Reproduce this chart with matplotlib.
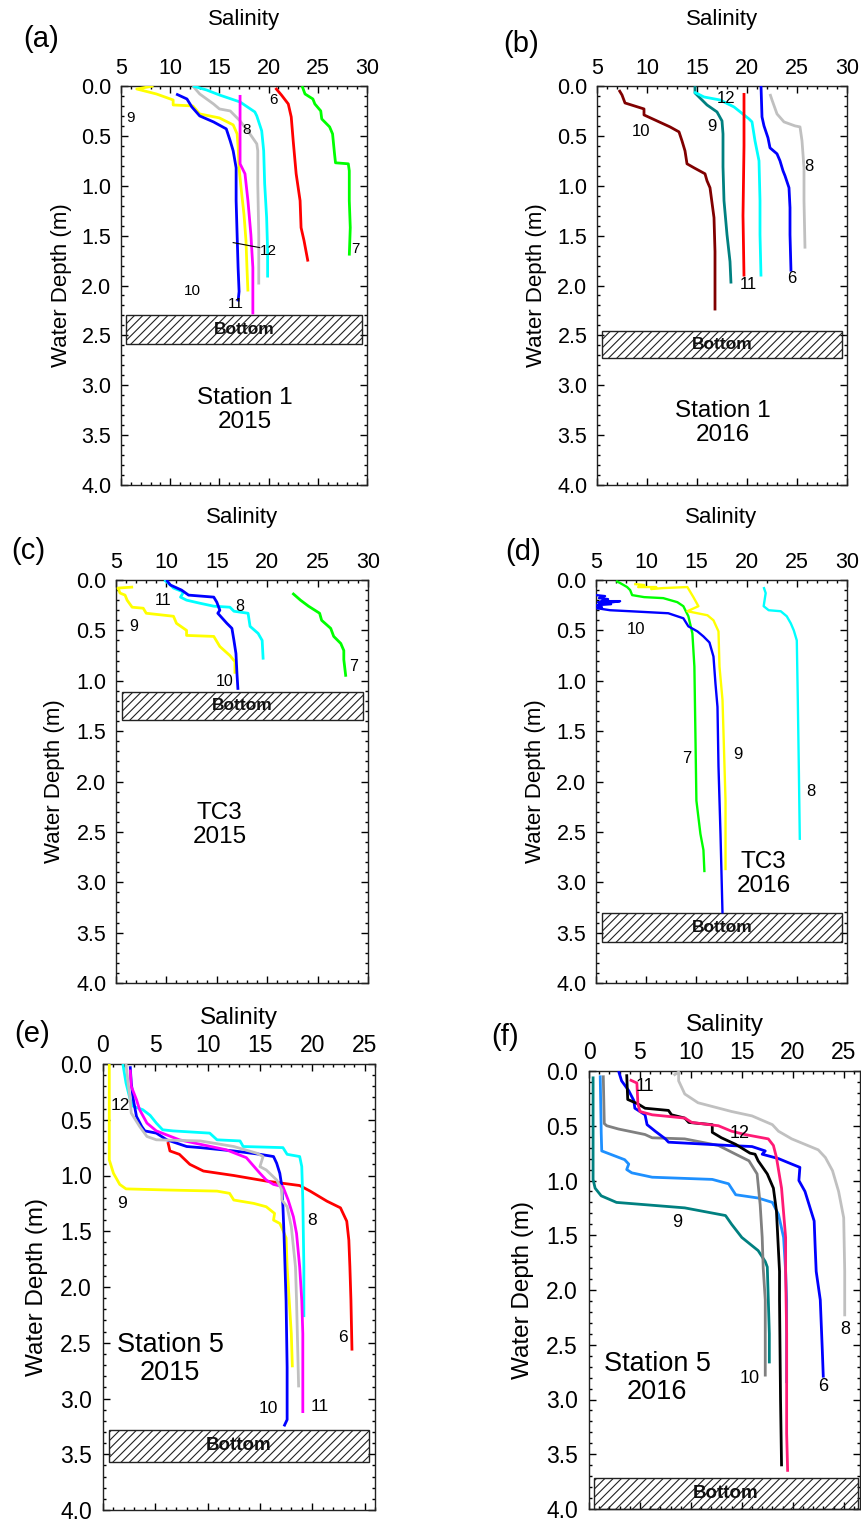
import matplotlib
matplotlib.use('Agg')
import matplotlib.pyplot as plt
from matplotlib.patches import Rectangle
from matplotlib.ticker import MultipleLocator, FormatStrFormatter

plt.rcParams['font.family'] = ['Liberation Sans', 'DejaVu Sans']
plt.rcParams['hatch.linewidth'] = 0.8

# ---------------- (a) Station 1, 2015 ----------------
a9_sal = [8.3, 6.6, 8.6, 10.3, 10.3, 12.3, 13.0, 15.0, 16.4, 16.8, 16.9, 17.0, 17.2, 17.5, 17.7, 17.8, 17.9]
a9_dep = [0.00, 0.03, 0.08, 0.14, 0.19, 0.20, 0.28, 0.32, 0.39, 0.48, 0.61, 0.82, 1.02, 1.29, 1.55, 1.82, 2.06]
a10_sal = [10.6, 11.7, 12.2, 13.0, 14.4, 15.7, 16.1, 16.4, 16.7, 16.7, 16.8, 16.9, 17.0, 16.9]
a10_dep = [0.08, 0.13, 0.21, 0.30, 0.36, 0.43, 0.55, 0.65, 0.82, 1.15, 1.49, 1.82, 2.06, 2.16]
a8_sal = [12.3, 13.0, 14.4, 15.0, 16.1, 17.1, 18.1, 18.8, 18.9, 18.9, 19.0, 19.0]
a8_dep = [0.00, 0.08, 0.18, 0.23, 0.25, 0.35, 0.48, 0.58, 0.65, 0.98, 1.49, 1.99]
a12_sal = [12.3, 13.7, 15.0, 17.1, 18.6, 18.8, 19.3, 19.5, 19.6, 19.8, 19.9, 19.9]
a12_dep = [0.00, 0.04, 0.09, 0.16, 0.26, 0.30, 0.45, 0.65, 0.98, 1.32, 1.65, 1.92]
a6_sal = [20.7, 21.3, 22.0, 22.3, 22.5, 22.8, 23.2, 23.3, 23.6, 24.0]
a6_dep = [0.02, 0.09, 0.18, 0.31, 0.55, 0.88, 1.15, 1.42, 1.55, 1.76]
a7_sal = [23.4, 23.7, 24.5, 24.7, 25.3, 25.4, 26.2, 26.5, 26.7, 26.8, 28.1, 28.2, 28.2, 28.3, 28.2]
a7_dep = [0.00, 0.08, 0.13, 0.18, 0.25, 0.33, 0.41, 0.48, 0.68, 0.77, 0.78, 0.85, 1.15, 1.42, 1.70]
a11_sal = [17.1, 17.1, 17.6, 17.9, 18.2, 18.4, 18.4]
a11_dep = [0.09, 0.78, 0.88, 1.15, 1.49, 1.82, 2.29]
a_labels = ['6', '9', '8', '12', '7', '10', '11']
a_lab_x = [20.5, 6.0, 17.8, 20.0, 28.8, 12.3, 16.7]
a_lab_y = [0.14, 0.32, 0.44, 1.65, 1.63, 2.06, 2.19]

# ---------------- (b) Station 1, 2016 ----------------
b10_sal = [7.2, 7.5, 7.8, 9.7, 9.7, 11.0, 12.3, 13.2, 13.5, 13.8, 14.0, 14.7, 15.8, 16.0, 16.3, 16.7, 16.8, 16.8, 16.8]
b10_dep = [0.04, 0.09, 0.17, 0.23, 0.29, 0.35, 0.41, 0.46, 0.55, 0.65, 0.78, 0.82, 0.88, 0.95, 1.02, 1.32, 1.66, 1.99, 2.25]
b9_sal = [14.8, 14.8, 16.0, 17.0, 17.5, 17.6, 17.6, 17.7, 18.0, 18.3, 18.4]
b9_dep = [0.00, 0.07, 0.19, 0.26, 0.35, 0.48, 0.81, 1.15, 1.49, 1.76, 1.98]
b12_sal = [14.7, 15.7, 17.3, 18.7, 20.2, 20.5, 20.8, 21.2, 21.3, 21.3, 21.4]
b12_dep = [0.06, 0.11, 0.14, 0.21, 0.33, 0.36, 0.55, 0.75, 1.15, 1.49, 1.91]
b11_sal = [19.7, 19.7, 19.6, 19.7]
b11_dep = [0.07, 0.60, 1.30, 1.91]
b6_sal = [21.4, 21.5, 21.7, 22.1, 22.3, 23.0, 23.3, 23.6, 23.8, 24.2, 24.3, 24.3, 24.4]
b6_dep = [0.00, 0.31, 0.40, 0.52, 0.62, 0.68, 0.75, 0.85, 0.90, 1.02, 1.22, 1.49, 1.86]
b8_sal = [22.3, 22.5, 23.0, 23.7, 24.8, 25.3, 25.5, 25.7, 25.7, 25.8]
b8_dep = [0.08, 0.14, 0.28, 0.36, 0.40, 0.41, 0.55, 0.82, 1.15, 1.63]
b_labels = ['12', '10', '9', '8', '11', '6']
b_lab_x = [17.9, 9.4, 16.5, 26.2, 20.1, 24.5]
b_lab_y = [0.13, 0.46, 0.41, 0.81, 1.99, 1.93]

# ---------------- (c) TC3, 2015 ----------------
c8_sal = [9.8, 10.4, 10.7, 11.7, 11.4, 12.0, 13.3, 14.7, 16.3, 16.7, 18.1, 18.3, 19.1, 19.5, 19.6]
c8_dep = [0.00, 0.05, 0.08, 0.12, 0.17, 0.20, 0.23, 0.26, 0.27, 0.31, 0.33, 0.46, 0.53, 0.60, 0.79]
c9_sal = [6.7, 5.2, 5.4, 5.9, 6.1, 6.6, 7.7, 8.0, 10.7, 11.0, 12.0, 12.0, 14.7, 15.3, 16.3, 16.8, 16.8]
c9_dep = [0.07, 0.08, 0.13, 0.15, 0.20, 0.27, 0.28, 0.33, 0.36, 0.43, 0.50, 0.55, 0.56, 0.66, 0.75, 0.81, 0.93]
c10_sal = [10.0, 10.4, 11.5, 12.2, 14.7, 15.0, 15.3, 15.1, 16.0, 16.5, 16.7, 16.9, 17.0, 17.1]
c10_dep = [0.00, 0.05, 0.10, 0.15, 0.17, 0.22, 0.30, 0.33, 0.43, 0.48, 0.60, 0.73, 0.93, 1.09]
c7_sal = [22.5, 23.3, 24.1, 25.2, 25.4, 26.3, 26.6, 27.3, 27.6, 27.6, 27.8]
c7_dep = [0.13, 0.20, 0.26, 0.33, 0.40, 0.48, 0.56, 0.63, 0.70, 0.79, 0.96]
c_labels = ['11', '8', '9', '7', '10']
c_lab_x = [9.7, 17.3, 6.8, 28.6, 15.8]
c_lab_y = [0.20, 0.26, 0.46, 0.86, 1.01]

# ---------------- (d) TC3, 2016 ----------------
d7_sal = [7.0, 7.4, 8.1, 8.4, 8.6, 9.8, 11.7, 13.1, 13.7, 14.2, 14.6, 14.8, 14.9, 15.0, 15.4, 15.7, 15.8]
d7_dep = [0.01, 0.03, 0.07, 0.10, 0.15, 0.17, 0.18, 0.22, 0.26, 0.36, 0.53, 0.86, 1.52, 2.19, 2.52, 2.68, 2.90]
d9_sal = [8.8, 9.8, 9.2, 11.0, 10.5, 11.7, 14.1, 14.7, 15.2, 14.1, 16.1, 16.7, 17.2, 17.3, 17.6, 17.7, 17.9, 17.9]
d9_dep = [0.04, 0.05, 0.07, 0.07, 0.09, 0.08, 0.07, 0.17, 0.26, 0.31, 0.35, 0.40, 0.51, 0.86, 1.19, 1.52, 2.19, 2.88]
d10_sal = [5.0, 5.9, 5.3, 6.2, 5.5, 7.4, 6.0, 5.2, 6.5, 5.0, 5.6, 5.1, 6.4, 8.4, 12.2, 13.7, 14.2, 15.1, 15.7,
           16.3, 16.7, 16.9, 17.1, 17.2, 17.4, 17.6]
d10_dep = [0.15, 0.16, 0.18, 0.19, 0.21, 0.21, 0.23, 0.22, 0.24, 0.25, 0.27, 0.28, 0.30, 0.31, 0.33, 0.38, 0.46,
           0.51, 0.56, 0.62, 0.76, 1.03, 1.26, 1.85, 2.52, 3.31]
d8_sal = [21.7, 21.9, 21.7, 22.2, 23.4, 24.0, 24.4, 24.7, 25.0, 25.1, 25.2, 25.3]
d8_dep = [0.07, 0.13, 0.26, 0.30, 0.31, 0.36, 0.43, 0.50, 0.60, 1.19, 1.85, 2.58]
d_labels = ['10', '7', '9', '8']
d_lab_x = [9.0, 14.0, 19.1, 26.4]
d_lab_y = [0.49, 1.77, 1.73, 2.10]

# ---------------- (e) Station 5, 2015 ----------------
e9_sal = [0.6, 0.6, 0.6, 1.0, 1.6, 2.2, 6.1, 10.9, 12.1, 12.5, 14.4, 15.6, 16.4, 16.3, 16.9, 17.1, 17.5, 17.6, 17.8, 18.0, 18.1]
e9_dep = [0.00, 0.32, 0.86, 0.98, 1.08, 1.12, 1.13, 1.14, 1.16, 1.22, 1.25, 1.28, 1.34, 1.40, 1.43, 1.47, 1.56, 1.82, 2.12, 2.42, 2.72]
e6_sal = [6.2, 6.4, 7.3, 8.3, 9.6, 12.5, 15.6, 18.8, 19.8, 21.4, 22.7, 23.3, 23.5, 23.6, 23.7, 23.8]
e6_dep = [0.70, 0.78, 0.81, 0.90, 0.96, 1.00, 1.05, 1.09, 1.14, 1.23, 1.29, 1.41, 1.58, 1.82, 2.12, 2.57]
e8_sal = [1.9, 2.2, 2.6, 2.9, 3.8, 4.5, 5.1, 5.7, 6.7, 10.2, 10.9, 13.1, 13.4, 17.2, 17.6, 18.8, 19.0, 19.1, 19.2, 19.2]
e8_dep = [0.00, 0.17, 0.32, 0.38, 0.41, 0.46, 0.53, 0.59, 0.60, 0.62, 0.68, 0.69, 0.74, 0.75, 0.81, 0.83, 0.92, 1.22, 1.82, 2.27]
e10_sal = [2.6, 2.7, 2.9, 3.2, 3.7, 4.0, 5.1, 6.1, 8.0, 9.3, 12.5, 15.0, 16.3, 16.6, 16.9, 17.1, 17.2, 17.3, 17.5, 17.6, 17.6, 17.3]
e10_dep = [0.02, 0.17, 0.32, 0.47, 0.56, 0.60, 0.62, 0.68, 0.74, 0.75, 0.78, 0.81, 0.83, 0.89, 0.98, 1.10, 1.28, 1.52, 2.12, 2.72, 3.19, 3.25]
e11_sal = [2.6, 2.7, 3.2, 3.5, 4.2, 5.1, 7.3, 9.3, 11.8, 13.7, 15.0, 15.6, 16.3, 17.2, 17.7, 18.2, 18.5, 18.8, 19.0, 19.1, 19.1]
e11_dep = [0.05, 0.20, 0.32, 0.41, 0.53, 0.60, 0.68, 0.72, 0.77, 0.84, 0.98, 1.04, 1.08, 1.10, 1.22, 1.37, 1.52, 1.82, 2.12, 2.42, 3.13]
e12_sal = [2.2, 2.4, 2.6, 2.7, 3.5, 4.2, 5.1, 9.3, 12.5, 14.7, 15.3, 15.0, 15.6, 16.6, 17.1, 17.1, 17.6, 18.0, 18.4, 18.5, 18.7]
e12_dep = [0.00, 0.17, 0.32, 0.44, 0.56, 0.65, 0.68, 0.69, 0.74, 0.80, 0.83, 0.92, 0.95, 1.04, 1.13, 1.22, 1.28, 1.46, 1.82, 2.12, 2.90]
e_labels = ['12', '9', '8', '6', '10', '11']
e_lab_x = [1.7, 1.8, 20.0, 22.9, 15.8, 20.7]
e_lab_y = [0.37, 1.25, 1.40, 2.45, 3.09, 3.07]

# ---------------- (f) Station 5, 2016 ----------------
f8_sal = [8.3, 8.8, 8.8, 9.4, 10.7, 14.0, 16.0, 18.0, 18.6, 19.9, 22.5, 23.2, 23.9, 24.5, 25.0, 25.1, 25.1, 25.1]
f8_dep = [0.04, 0.01, 0.09, 0.21, 0.29, 0.37, 0.41, 0.49, 0.55, 0.62, 0.72, 0.79, 0.91, 1.10, 1.34, 1.83, 2.09, 2.24]
f9_sal = [0.4, 0.4, 0.6, 1.2, 2.7, 9.4, 13.4, 14.0, 15.0, 16.6, 17.3, 17.5, 17.6, 17.7, 17.7]
f9_dep = [0.05, 0.99, 1.07, 1.14, 1.20, 1.25, 1.32, 1.40, 1.52, 1.64, 1.74, 1.79, 2.09, 2.40, 2.67]
f7_sal = [1.1, 1.2, 1.25, 3.5, 3.9, 3.7, 4.2, 6.2, 12.1, 13.7, 14.4, 16.6, 18.0, 18.6, 19.1, 19.3, 19.4, 19.4, 19.4]
f7_dep = [0.04, 0.57, 0.73, 0.81, 0.85, 0.90, 0.93, 0.97, 0.99, 1.03, 1.13, 1.16, 1.20, 1.31, 1.52, 1.83, 2.09, 2.40, 2.85]
f10_sal = [1.4, 1.5, 1.74, 2.9, 5.5, 6.2, 9.4, 12.7, 14.4, 15.7, 16.5, 16.8, 17.0, 17.1, 17.3, 17.3]
f10_dep = [0.04, 0.48, 0.50, 0.53, 0.58, 0.61, 0.62, 0.68, 0.76, 0.82, 0.94, 1.22, 1.52, 1.80, 2.09, 2.79]
f6_sal = [2.9, 3.2, 3.9, 4.4, 4.5, 5.5, 5.7, 6.5, 7.5, 7.8, 13.7, 16.0, 17.3, 17.0, 18.6, 19.9, 20.7, 20.6, 21.2,
          21.6, 22.1, 22.2, 22.3, 22.7, 22.9, 23.0]
f6_dep = [0.00, 0.09, 0.18, 0.27, 0.34, 0.40, 0.49, 0.55, 0.62, 0.65, 0.68, 0.69, 0.73, 0.76, 0.80, 0.85, 0.88, 1.00,
          1.10, 1.22, 1.37, 1.61, 1.83, 2.09, 2.55, 2.80]
f12_sal = [3.7, 3.8, 4.8, 5.5, 7.8, 8.1, 9.4, 9.8, 12.1, 12.1, 13.0, 14.4, 15.8, 16.3, 16.6, 17.5, 18.1, 18.4, 18.7, 18.7, 18.8, 18.9]
f12_dep = [0.03, 0.26, 0.30, 0.34, 0.36, 0.40, 0.43, 0.47, 0.49, 0.56, 0.61, 0.67, 0.75, 0.76, 0.82, 0.94, 1.07, 1.28, 1.83, 2.09, 3.00, 3.61]
f11_sal = [4.0, 4.7, 4.8, 5.0, 6.2, 9.4, 10.1, 12.7, 14.0, 15.3, 17.6, 18.1, 18.4, 18.9, 19.3, 19.3, 19.4, 19.4, 19.5]
f11_dep = [0.08, 0.11, 0.30, 0.37, 0.40, 0.43, 0.47, 0.50, 0.55, 0.58, 0.62, 0.68, 0.79, 1.07, 1.52, 1.83, 2.40, 3.31, 3.66]
f_labels = ['11', '12', '9', '8', '10', '6']
f_lab_x = [5.5, 14.8, 8.7, 25.2, 15.8, 23.0]
f_lab_y = [0.14, 0.57, 1.38, 2.36, 2.81, 2.88]

# bottom boxes: (sal start, sal end, depth top, depth bottom)
a_bottom = (5.5, 29.5, 2.30, 2.59)
b_bottom = (5.5, 29.5, 2.46, 2.73)
c_bottom = (5.6, 29.5, 1.11, 1.39)
d_bottom = (5.6, 29.5, 3.31, 3.59)
e_bottom = (0.6, 25.4, 3.28, 3.57)
f_bottom = (0.5, 26.4, 3.72, 4.00)

W, H = 862, 1526
fig = plt.figure(figsize=(W / 100, H / 100), dpi=100)

panels = [
    dict(tag='(a)', box=(121, 367, 86, 485), xlim=(5, 30), tag_xy=(41, 39), title='Station 1\n2015', txy=(17.6, 3.25),
         curves=[(a9_sal, a9_dep, '#ffff00'), (a10_sal, a10_dep, '#0000ff'), (a8_sal, a8_dep, '#c0c0c0'),
                 (a12_sal, a12_dep, '#00ffff'), (a6_sal, a6_dep, '#ff0000'), (a7_sal, a7_dep, '#00ff00'),
                 (a11_sal, a11_dep, '#ff00ff')],
         labels=(a_labels, a_lab_x, a_lab_y), lsize=11, bottom=a_bottom, big=False, lw=2.0),
    dict(tag='(b)', box=(597, 847, 86, 485), xlim=(5, 30), tag_xy=(521, 44), title='Station 1\n2016', txy=(17.6, 3.38),
         curves=[(b10_sal, b10_dep, '#800000'), (b9_sal, b9_dep, '#008080'), (b12_sal, b12_dep, '#00ffff'),
                 (b11_sal, b11_dep, '#ff0000'), (b6_sal, b6_dep, '#0000ff'), (b8_sal, b8_dep, '#c0c0c0')],
         labels=(b_labels, b_lab_x, b_lab_y), lsize=12, bottom=b_bottom, big=False, lw=2.0),
    dict(tag='(c)', box=(116, 368, 580, 983), xlim=(5, 30), tag_xy=(28, 551), title='TC3\n2015', txy=(15.3, 2.43),
         curves=[(c8_sal, c8_dep, '#00ffff'), (c9_sal, c9_dep, '#ffff00'), (c10_sal, c10_dep, '#0000ff'),
                 (c7_sal, c7_dep, '#00ff00')],
         labels=(c_labels, c_lab_x, c_lab_y), lsize=11.5, bottom=c_bottom, big=False, lw=2.0),
    dict(tag='(d)', box=(596, 847, 580, 983), xlim=(5, 30), tag_xy=(523, 552), title='TC3\n2016', txy=(21.7, 2.92),
         curves=[(d7_sal, d7_dep, '#00ff00'), (d10_sal, d10_dep, '#0000ff'), (d9_sal, d9_dep, '#ffff00'),
                 (d8_sal, d8_dep, '#00ffff')],
         labels=(d_labels, d_lab_x, d_lab_y), lsize=12, bottom=d_bottom, big=False, lw=1.7),
    dict(tag='(e)', box=(103, 375, 1064, 1510), xlim=(0, 26), tag_xy=(32, 1034), title='Station 5\n2015', txy=(6.4, 2.65),
         curves=[(e9_sal, e9_dep, '#ffff00'), (e6_sal, e6_dep, '#ff0000'), (e8_sal, e8_dep, '#00ffff'),
                 (e10_sal, e10_dep, '#0000ff'), (e11_sal, e11_dep, '#ff00ff'), (e12_sal, e12_dep, '#c0c0c0')],
         labels=(e_labels, e_lab_x, e_lab_y), lsize=12.5, bottom=e_bottom, big=True, lw=2.0),
    dict(tag='(f)', box=(589, 860, 1071, 1509), xlim=(0, 26.6), tag_xy=(505, 1037), title='Station 5\n2016', txy=(6.7, 2.80),
         curves=[(f8_sal, f8_dep, '#c0c0c0'), (f9_sal, f9_dep, '#008080'), (f7_sal, f7_dep, '#1e90ff'),
                 (f10_sal, f10_dep, '#808080'), (f6_sal, f6_dep, '#0000ff'), (f12_sal, f12_dep, '#000000'),
                 (f11_sal, f11_dep, '#ff1a75')],
         labels=(f_labels, f_lab_x, f_lab_y), lsize=13, bottom=f_bottom, big=True, lw=2.0),
]

for p in panels:
    x0, x1, y0, y1 = p['box']
    ax = fig.add_axes([x0 / W, 1 - y1 / H, (x1 - x0) / W, (y1 - y0) / H])
    big = p['big']
    tick_fs = 16.5 if big else 15.5
    lab_fs = 17.5 if big else 16

    for sal, dep, col in p['curves']:
        ax.plot(sal, dep, color=col, lw=p['lw'], solid_capstyle='butt', zorder=3)

    names, lx, ly = p['labels']
    for t, x, y in zip(names, lx, ly):
        ax.text(x, y, t, fontsize=p['lsize'], ha='center', va='center', zorder=5)

    # hatched sea-floor box
    bx0, bx1, by0, by1 = p['bottom']
    ax.add_patch(Rectangle((bx0, by0), bx1 - bx0, by1 - by0, fill=False, hatch='////',
                           edgecolor='#222222', lw=1.0, zorder=2, clip_on=False))
    ax.text((bx0 + bx1) / 2, (by0 + by1) / 2, 'Bottom', fontsize=13.5 if big else 12.5,
            fontweight='bold', ha='center', va='center', zorder=4, color='#111111')

    ax.text(p['txy'][0], p['txy'][1], p['title'], fontsize=19.5 if big else 17.5, ha='center', va='center',
            linespacing=1.1, zorder=5)

    ax.set_xlim(*p['xlim'])
    ax.set_ylim(4.0, 0.0)
    ax.xaxis.set_major_locator(MultipleLocator(5))
    ax.xaxis.set_minor_locator(MultipleLocator(1))
    ax.yaxis.set_major_locator(MultipleLocator(0.5))
    ax.yaxis.set_minor_locator(MultipleLocator(0.1))
    ax.yaxis.set_major_formatter(FormatStrFormatter('%.1f'))
    ax.tick_params(which='both', direction='in', top=True, bottom=True, left=True, right=True,
                   labeltop=True, labelbottom=False, width=1)
    ax.tick_params(which='major', length=5, labelsize=tick_fs)
    ax.tick_params(which='minor', length=2.5)
    ax.tick_params(axis='x', which='major', pad=5)
    ax.tick_params(axis='y', which='major', pad=8 if big else 7)
    for s in ax.spines.values():
        s.set_linewidth(1.0)
        s.set_color('#222222')

    ax.set_xlabel('Salinity', fontsize=lab_fs)
    ax.xaxis.set_label_position('top')
    ax.set_ylabel('Water Depth (m)', fontsize=lab_fs)
    ax.xaxis.label.set_va('center')
    ax.yaxis.label.set_va('center')
    label_y = {86: 19, 580: 517, 1064: 1018, 1071: 1025}[y0]
    ax.xaxis.set_label_coords(0.5, 1 + (y0 - label_y) / (y1 - y0))
    ax.yaxis.set_label_coords(-0.243, 0.5)

    fig.text(p['tag_xy'][0] / W, 1 - p['tag_xy'][1] / H, p['tag'], fontsize=21, ha='center', va='center')

# leader line for label 12 in panel (a)
fig.axes[0].plot([16.4, 19.1], [1.57, 1.62], color='black', lw=0.8, zorder=4)

fig.savefig('out.png', dpi=100)
